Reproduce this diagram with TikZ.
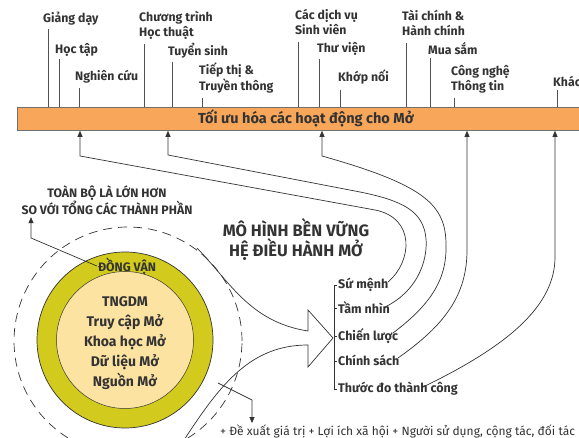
\documentclass[tikz,border=0pt]{standalone}
\usepackage{fontspec}
\setmainfont{Fira Sans}
\usetikzlibrary{arrows.meta}
\definecolor{barfill}{HTML}{F8A65A}
\definecolor{ringfill}{HTML}{D2CA1C}
\definecolor{corefill}{HTML}{FDE3A2}
\definecolor{ink}{HTML}{333333}
\newcommand{\twoline}[2]{\begin{tabular}[t]{@{}l@{}}#1\\#2\end{tabular}}
\newcommand{\tickto}[3]{\path ([shift={(#2,#3)}]#1.south west) coordinate (#1-t); \draw[tick] (#1-t) -- (#1-t |- bar.north);}
\begin{document}
\begin{tikzpicture}[x=1pt,y=-1pt,
  toplbl/.style={font=\bfseries\fontsize{12.3}{14}\selectfont, anchor=base west, inner sep=0pt, text=ink},
  itemlbl/.style={font=\bfseries\fontsize{12.5}{14}\selectfont, anchor=base west, inner sep=0pt, text=ink},
  tick/.style={draw=ink!85, line width=0.7pt},
  up/.style={draw=ink, line width=0.7pt, -{Triangle[length=6pt,width=5pt]}},
  brk/.style={draw=ink, line width=0.7pt},
  outline/.style={draw=ink, line width=0.7pt},
]
\useasboundingbox (0,0) rectangle (579,438);
\fill[white] (0,0) rectangle (579,438);

% bar
\node[draw=ink!70, fill=barfill, minimum width=640pt, minimum height=23pt, anchor=north west, inner sep=0pt, line width=0.8pt] (bar) at (17,107) {};
\node[font=\bfseries\fontsize{14.5}{16}\selectfont, text=ink] (bartitle) at (306,118.5) {Tối ưu hóa các hoạt động cho Mở};

% top labels
\node[toplbl] (giang) at (43,23) {Giảng dạy};
\node[toplbl] (hoctap) at (55,54) {Học tập};
\node[toplbl] (nghien) at (75,81) {Nghiên cứu};
\node[toplbl] (chuong) at (139,22) {\twoline{Chương trình}{Học thuật}};
\node[toplbl] (tuyen) at (168,56) {Tuyển sinh};
\node[toplbl] (tiepthi) at (199,75) {\twoline{Tiếp thị \&}{Truyền thông}};
\node[toplbl] (dichvu) at (295,20) {\twoline{Các dịch vụ}{Sinh viên}};
\node[toplbl] (thuvien) at (317,53) {Thư viện};
\node[toplbl] (khop) at (338,82) {Khớp nối};
\node[toplbl] (taichinh) at (402,21) {\twoline{Tài chính \&}{Hành chính}};
\node[toplbl] (muasam) at (428,55) {Mua sắm};
\node[toplbl] (congnghe) at (451,76) {\twoline{Công nghệ}{Thông tin}};
\node[toplbl] (khac) at (553,87) {Khác};

\tickto{giang}{5}{3}
\tickto{hoctap}{4}{2}
\tickto{nghien}{4}{4}
\tickto{chuong}{5}{3}
\tickto{tuyen}{4}{3}
\tickto{tiepthi}{3}{3}
\tickto{dichvu}{3}{3}
\tickto{thuvien}{2}{3}
\tickto{khop}{2}{5}
\tickto{taichinh}{4}{3}
\tickto{muasam}{2}{3}
\tickto{congnghe}{3}{3}
\tickto{khac}{4}{3}

% list items
\node[itemlbl] (sumenh) at (338,289) {Sứ mệnh};
\node[itemlbl] (tamnhin) at (338,314) {Tầm nhìn};
\node[itemlbl] (chienluoc) at (338,341) {Chiến lược};
\node[itemlbl] (chinhsach) at (338,366) {Chính sách};
\node[itemlbl] (thuocdo) at (338,393) {Thước đo thành công};

\draw[brk] ([xshift=-1pt]sumenh.west) -- ++(-3,0) |- ([xshift=-1pt]thuocdo.west);
\draw[brk] ([xshift=-1pt]tamnhin.west) -- ++(-3,0);
\draw[brk] ([xshift=-1pt]chienluoc.west) -- ++(-3,0);
\draw[brk] ([xshift=-1pt]chinhsach.west) -- ++(-3,0);

% up arrows to bar
\coordinate (a1) at (80,0);
\coordinate (a2) at (168,0);
\coordinate (a3) at (322,0);
\coordinate (a4) at (467,0);
\coordinate (a5) at (555,0);
\draw[up] ([shift={(50,-7)}]sumenh.base west) .. controls (412,262) and (416,218) .. (375,210) -- (80,156) -- (a1 |- bar.south);
\draw[up] ([shift={(47,-7)}]tamnhin.base west) .. controls (420,290) and (430,255) .. (425,232) .. controls (420,212) and (405,201) .. (360,192) -- (168,155) -- (a2 |- bar.south);
\draw[up] ([shift={(55,-8)}]chienluoc.base west) .. controls (430,305) and (447,280) .. (446,245) .. controls (446,205) and (425,185) .. (322,156) -- (a3 |- bar.south);
\draw[up] ([shift={(60,-8)}]chinhsach.base west) .. controls (445,325) and (467,295) .. (467,250) -- (a4 |- bar.south);
\draw[up] ([shift={(85,-6)}]thuocdo.base west) .. controls (510,345) and (555,305) .. (555,257) -- (a5 |- bar.south);

% circles
\node[circle, draw=ink, dash pattern=on 9pt off 6pt, line width=0.7pt, minimum size=228pt, inner sep=0pt] (halo) at (128,341) {};
\node[circle, draw=ink, fill=ringfill, line width=0.7pt, minimum size=176pt, inner sep=0pt] (ring) at (125,340) {};
\node[circle, draw=ink, fill=corefill, line width=0.5pt, minimum size=137pt, inner sep=0pt] (core) at (125,340) {};
\node[font=\bfseries\fontsize{14}{20}\selectfont, align=center, text=ink] (coretext) at (125,343) {TNGDM\\Truy cập Mở\\Khoa học Mở\\Dữ liệu Mở\\Nguồn Mở};
\node[font=\bfseries\fontsize{12.3}{13}\selectfont, inner sep=1pt, text=ink] (dongvan) at (127,266) {ĐỒNG VẬN};

\node[font=\bfseries\fontsize{12.3}{17}\selectfont, align=center, text=ink, inner sep=0pt] (toanbo) at (107,200.5) {TOÀN BỘ LÀ LỚN HƠN\\SO VỚI TỔNG CÁC THÀNH PHẦN};
\coordinate (tb) at (31,0);
\draw[up] (dongvan.west) -- (31,238) -- ([yshift=-2pt]tb |- toanbo.south);

\node[font=\bfseries\fontsize{16.5}{20}\selectfont, align=center, text=ink, inner sep=0pt] (model) at (296,239) {MÔ HÌNH BỀN VỮNG\\HỆ ĐIỀU HÀNH MỞ};

% big arrow
\draw[outline] (197,248) .. controls (230,282) and (250,322) .. (308,331) -- (308,310) -- (333,338) -- (308,367) -- (308,345) .. controls (250,345) and (220,385) .. (184,440);

% bottom note
\node[anchor=base west, font=\fontsize{12}{13}\selectfont, inner sep=0pt, text=ink] (note) at (220,436) {+ Đề xuất giá trị + Lợi ích xã hội + Người sử dụng, cộng tác, đối tác};
\coordinate (sa) at (252,0);
\draw[up] (218,383) -- (252,400) -- ([yshift=2pt]sa |- note.north);
\end{tikzpicture}
\end{document}
